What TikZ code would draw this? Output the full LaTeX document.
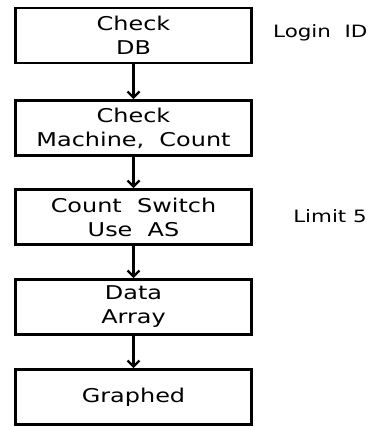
\documentclass[tikz,border=0pt]{standalone}
\usepackage{fontspec}
\setmainfont{DejaVu Sans}[FakeStretch=1.26]
\usetikzlibrary{arrows.meta}
\begin{document}
\begin{tikzpicture}[x=1pt,y=-1pt,
  stepbox/.style={draw,line width=2.6pt,minimum width=236pt,minimum height=55pt,align=center,font=\fontsize{19}{24}\selectfont,inner sep=0pt},
  flow/.style={line width=2.6pt,-{Straight Barb[length=6pt,width=12pt,line width=2.4pt]}},
  note/.style={font=\fontsize{17}{20}\selectfont,inner sep=0pt}]
\useasboundingbox (0,0) rectangle (371,427);
\node[stepbox] (b1) at (133.5,35.5) {Check\\DB};
\node[stepbox] (b2) at (133.5,128) {Check\\Machine,\ \ Count};
\node[stepbox] (b3) at (133.5,217) {Count\ \ Switch\\Use\ \ AS};
\node[stepbox] (b4) at (133.5,307) {Data\\Array};
\node[stepbox] (b5) at (133.5,397) {Graphed};
\draw[flow] (b1) -- (b2);
\draw[flow] (b2) -- (b3);
\draw[flow] (b3) -- (b4);
\draw[flow] (b4) -- (b5);
\node[note,anchor=west] (n1) at (273,33) {Login\ \ ID};
\node[note,anchor=east] (n2) at (367,216) {Limit\ 5};
\end{tikzpicture}
\end{document}
